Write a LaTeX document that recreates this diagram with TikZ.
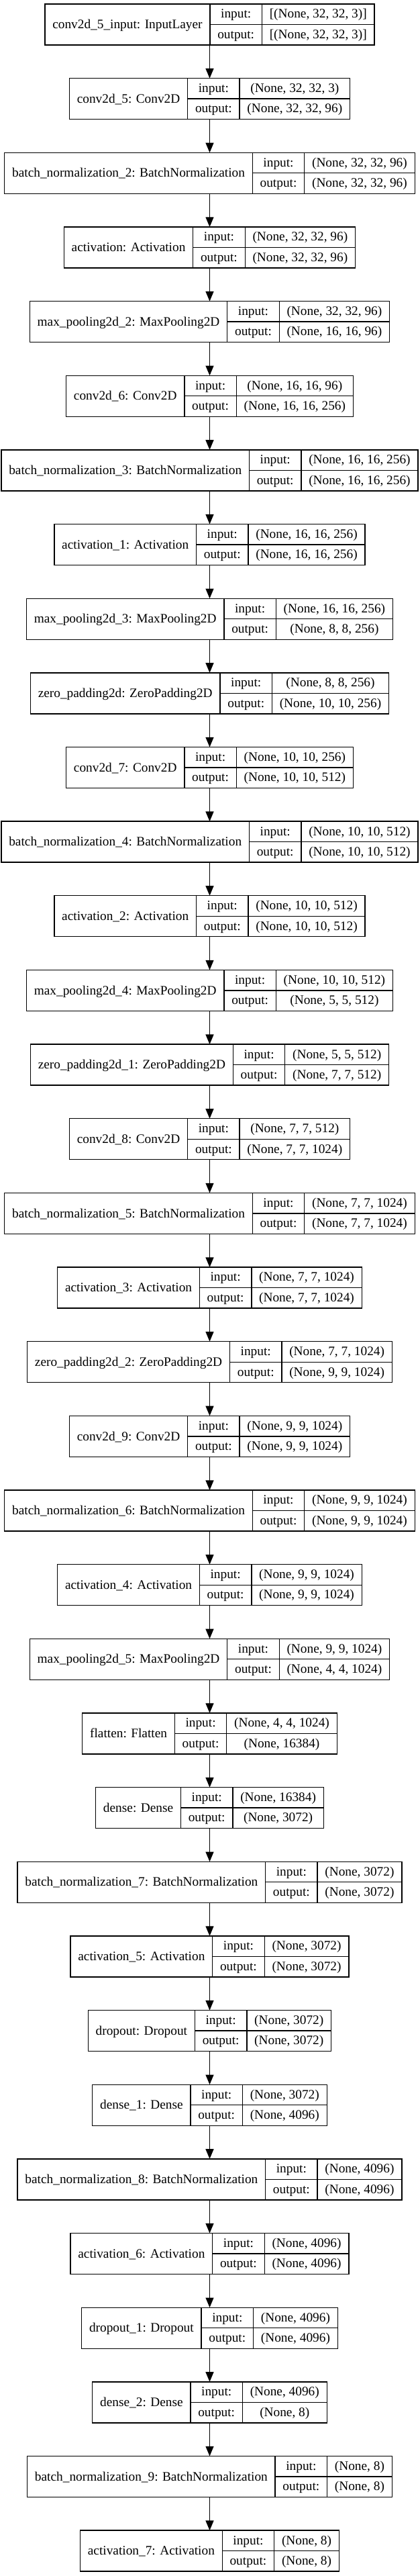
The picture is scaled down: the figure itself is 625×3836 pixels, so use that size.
\documentclass[tikz,border=0pt]{standalone}
\usepackage{fontspec}
\setmainfont{Liberation Serif}
\usetikzlibrary{arrows.meta}
\newlength\klwA \newlength\klwB \newlength\klwC \newlength\klwT \newlength\klwS \newlength\klwtmp
\newcommand\lyrf{\fontsize{14.5}{17}\selectfont}
\newcommand\padd{17pt}
\newcommand\klmeas[2]{\pgfinterruptpicture\settowidth\klwtmp{\normalfont\lyrf #2}\global#1=\klwtmp\endpgfinterruptpicture}
\tikzset{
  lbox/.style={draw=black, line width=1pt, inner sep=0pt, outer sep=0pt, minimum height=45.75pt, fill=white},
  lline/.style={draw=black, line width=1pt},
  ltxt/.style={anchor=base, inner sep=0pt, font=\lyrf},
  arr/.style={draw=black, line width=1pt, -{Triangle[length=11pt,width=9pt]}}
}
\newcommand\kl[5]{%
  \klmeas\klwA{#3}\global\advance\klwA by \padd
  \klmeas\klwB{output:}\global\advance\klwB by \padd
  \klmeas\klwC{#4}\klmeas\klwT{#5}%
  \ifdim\klwT>\klwC \global\klwC=\klwT\fi \global\advance\klwC by \padd
  \global\klwT=\klwA \global\advance\klwT by \klwB \global\advance\klwT by \klwC
  \global\klwS=\klwA \global\advance\klwS by \klwB
  \node[lbox, minimum width=\klwT] (#1) at (312.5,{36.5+(#2)*110.65}) {};
  \draw[lline] ([xshift=\klwA]#1.north west) -- ([xshift=\klwA]#1.south west);
  \draw[lline] ([xshift=\klwS]#1.north west) -- ([xshift=\klwS]#1.south west);
  \draw[lline] ([xshift=\klwA]#1.west) -- (#1.east);
  \node[ltxt] at ([xshift=0.5\klwA, yshift=-4.6pt]#1.west) {#3};
  \node[ltxt] at ([xshift=\klwA+0.5\klwB, yshift=7.2pt]#1.west) {input:};
  \node[ltxt] at ([xshift=\klwA+0.5\klwB, yshift=-15.6pt]#1.west) {output:};
  \node[ltxt] at ([xshift=\klwS+0.5\klwC, yshift=7.2pt]#1.west) {#4};
  \node[ltxt] at ([xshift=\klwS+0.5\klwC, yshift=-15.6pt]#1.west) {#5};
}
\begin{document}
\begin{tikzpicture}[x=0.75pt,y=-0.75pt]
\useasboundingbox (0,0) rectangle (625,3836);
\kl{n1}{0}{conv2d\_5\_input: InputLayer}{[(None, 32, 32, 3)]}{[(None, 32, 32, 3)]}
\kl{n2}{1}{conv2d\_5: Conv2D}{(None, 32, 32, 3)}{(None, 32, 32, 96)}
\kl{n3}{2}{batch\_normalization\_2: BatchNormalization}{(None, 32, 32, 96)}{(None, 32, 32, 96)}
\kl{n4}{3}{activation: Activation}{(None, 32, 32, 96)}{(None, 32, 32, 96)}
\kl{n5}{4}{max\_pooling2d\_2: MaxPooling2D}{(None, 32, 32, 96)}{(None, 16, 16, 96)}
\kl{n6}{5}{conv2d\_6: Conv2D}{(None, 16, 16, 96)}{(None, 16, 16, 256)}
\kl{n7}{6}{batch\_normalization\_3: BatchNormalization}{(None, 16, 16, 256)}{(None, 16, 16, 256)}
\kl{n8}{7}{activation\_1: Activation}{(None, 16, 16, 256)}{(None, 16, 16, 256)}
\kl{n9}{8}{max\_pooling2d\_3: MaxPooling2D}{(None, 16, 16, 256)}{(None, 8, 8, 256)}
\kl{n10}{9}{zero\_padding2d: ZeroPadding2D}{(None, 8, 8, 256)}{(None, 10, 10, 256)}
\kl{n11}{10}{conv2d\_7: Conv2D}{(None, 10, 10, 256)}{(None, 10, 10, 512)}
\kl{n12}{11}{batch\_normalization\_4: BatchNormalization}{(None, 10, 10, 512)}{(None, 10, 10, 512)}
\kl{n13}{12}{activation\_2: Activation}{(None, 10, 10, 512)}{(None, 10, 10, 512)}
\kl{n14}{13}{max\_pooling2d\_4: MaxPooling2D}{(None, 10, 10, 512)}{(None, 5, 5, 512)}
\kl{n15}{14}{zero\_padding2d\_1: ZeroPadding2D}{(None, 5, 5, 512)}{(None, 7, 7, 512)}
\kl{n16}{15}{conv2d\_8: Conv2D}{(None, 7, 7, 512)}{(None, 7, 7, 1024)}
\kl{n17}{16}{batch\_normalization\_5: BatchNormalization}{(None, 7, 7, 1024)}{(None, 7, 7, 1024)}
\kl{n18}{17}{activation\_3: Activation}{(None, 7, 7, 1024)}{(None, 7, 7, 1024)}
\kl{n19}{18}{zero\_padding2d\_2: ZeroPadding2D}{(None, 7, 7, 1024)}{(None, 9, 9, 1024)}
\kl{n20}{19}{conv2d\_9: Conv2D}{(None, 9, 9, 1024)}{(None, 9, 9, 1024)}
\kl{n21}{20}{batch\_normalization\_6: BatchNormalization}{(None, 9, 9, 1024)}{(None, 9, 9, 1024)}
\kl{n22}{21}{activation\_4: Activation}{(None, 9, 9, 1024)}{(None, 9, 9, 1024)}
\kl{n23}{22}{max\_pooling2d\_5: MaxPooling2D}{(None, 9, 9, 1024)}{(None, 4, 4, 1024)}
\kl{n24}{23}{flatten: Flatten}{(None, 4, 4, 1024)}{(None, 16384)}
\kl{n25}{24}{dense: Dense}{(None, 16384)}{(None, 3072)}
\kl{n26}{25}{batch\_normalization\_7: BatchNormalization}{(None, 3072)}{(None, 3072)}
\kl{n27}{26}{activation\_5: Activation}{(None, 3072)}{(None, 3072)}
\kl{n28}{27}{dropout: Dropout}{(None, 3072)}{(None, 3072)}
\kl{n29}{28}{dense\_1: Dense}{(None, 3072)}{(None, 4096)}
\kl{n30}{29}{batch\_normalization\_8: BatchNormalization}{(None, 4096)}{(None, 4096)}
\kl{n31}{30}{activation\_6: Activation}{(None, 4096)}{(None, 4096)}
\kl{n32}{31}{dropout\_1: Dropout}{(None, 4096)}{(None, 4096)}
\kl{n33}{32}{dense\_2: Dense}{(None, 4096)}{(None, 8)}
\kl{n34}{33}{batch\_normalization\_9: BatchNormalization}{(None, 8)}{(None, 8)}
\kl{n35}{34}{activation\_7: Activation}{(None, 8)}{(None, 8)}
\foreach \i [evaluate=\i as \j using int(\i+1)] in {1,...,34} \draw[arr] (n\i) -- (n\j);
\end{tikzpicture}
\end{document}
